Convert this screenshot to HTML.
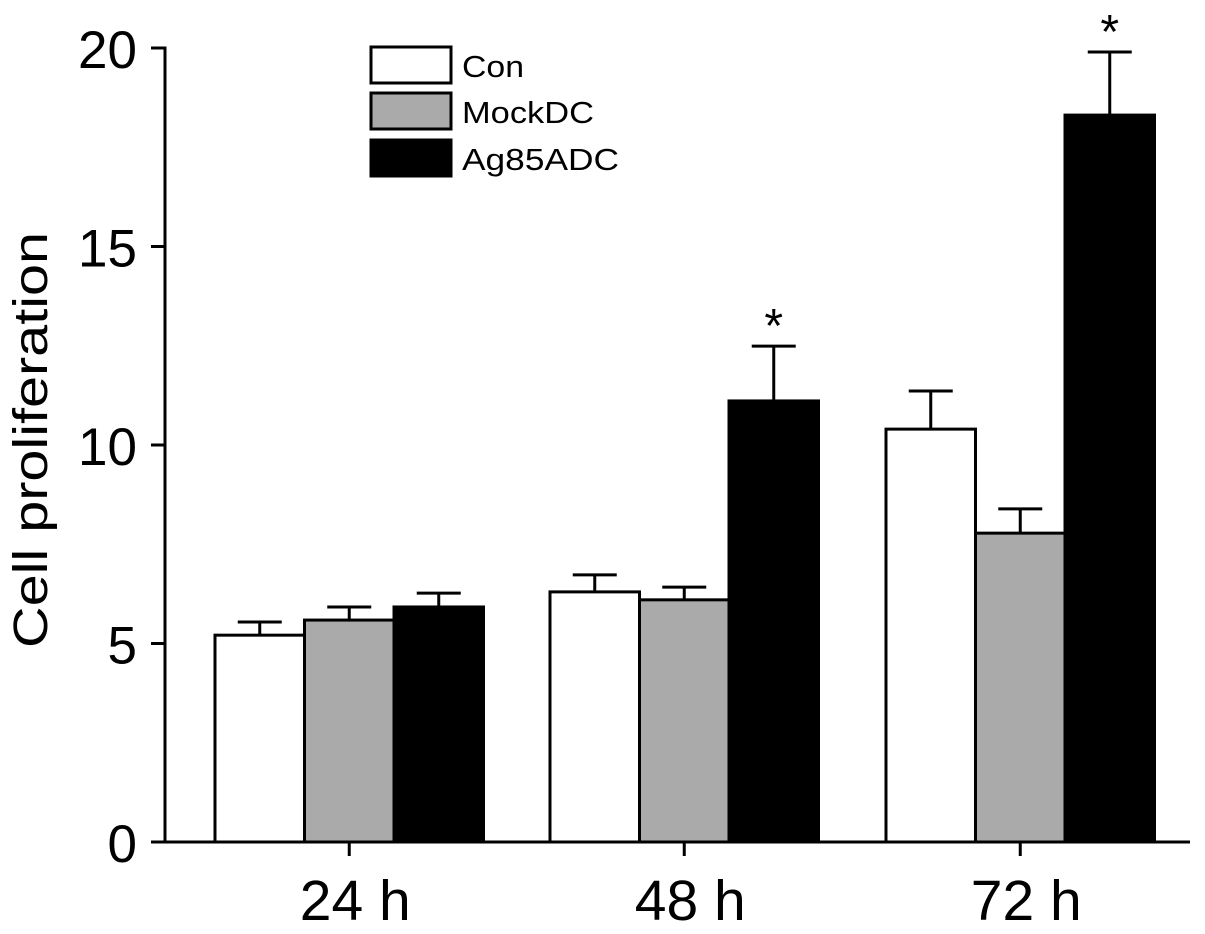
<!DOCTYPE html>
<html><head><meta charset="utf-8"><style>
body{margin:0;background:#fff}
svg{display:block;font-family:"Liberation Sans",Arial,sans-serif}
</style></head><body>
<svg id="chart" width="1205" height="934" viewBox="0 0 1205 934"></svg>
<script>
const categories=["24 h","48 h","72 h"];
const seriesNames=["Con","MockDC","Ag85ADC"];
const conVals=[5.21,6.30,10.40];
const conErr=[0.33,0.43,0.96];
const mockVals=[5.59,6.10,7.78];
const mockErr=[0.33,0.32,0.61];
const agVals=[5.92,11.11,18.31];
const agErr=[0.35,1.38,1.59];
const sig=[false,true,true];
const yTicks=[0,5,10,15,20];

const NS="http://www.w3.org/2000/svg";
const svg=document.getElementById('chart');
function mk(t,a,p){const e=document.createElementNS(NS,t);for(const k in a)e.setAttribute(k,a[k]);(p||svg).appendChild(e);return e;}
const y0=842,yTop=48,ax=165;
const y=v=>y0-(y0-yTop)*v/20;
const groupLeft=[215,550,886],bw=89.5;
const xBar=(g,s)=>groupLeft[g]+s*bw;
const fills=["#ffffff","#aaaaaa","#000000"];
const vals=[conVals,mockVals,agVals],errs=[conErr,mockErr,agErr];

for(let g=0;g<categories.length;g++){
  for(let s=0;s<3;s++){
    const x=xBar(g,s),v=vals[s][g],e=errs[s][g],cx=x+bw/2;
    let l=mk('line',{x1:cx,x2:cx,y1:y(v),y2:y(v+e),stroke:'#000','stroke-width':3});
    
    
    let c=mk('line',{x1:cx-22,x2:cx+22,y1:y(v+e),y2:y(v+e),stroke:'#000','stroke-width':3});
    
    
    let r=mk('rect',{x:x,y:y(v),width:bw,height:y0-y(v),fill:fills[s],stroke:'#000','stroke-width':3});
    
    
  }
  if(sig[g]){
    const cx=xBar(g,2)+bw/2;
    let t=mk('text',{x:cx,y:y(agVals[g]+agErr[g])-4,'text-anchor':'middle','font-size':48});
    t.textContent='*';
    
    
  }
  const gc=groupLeft[g]+bw*1.5;
  mk('line',{x1:gc,x2:gc,y1:y0,y2:y0+14,stroke:'#000','stroke-width':3});
  let tl=mk('text',{x:gc+6,y:920,'text-anchor':'middle','font-size':57});
  tl.textContent=categories[g];
  
  
}
// axes
let ya=mk('line',{x1:ax,x2:ax,y1:yTop-1.5,y2:y0+1.5,stroke:'#000','stroke-width':3});

let xa=mk('line',{x1:ax,x2:1190,y1:y0,y2:y0,stroke:'#000','stroke-width':3});

yTicks.forEach(v=>{
  mk('line',{x1:ax-14,x2:ax,y1:y(v),y2:y(v),stroke:'#000','stroke-width':3});
  let t=mk('text',{x:137,y:y(v)+20,'text-anchor':'end','font-size':53});
  t.textContent=v;
  
  
});
let yl=mk('text',{x:0,y:0,'text-anchor':'middle','font-size':48,textLength:416,lengthAdjust:'spacingAndGlyphs',transform:'translate(47,440) rotate(-90)'});
yl.textContent='Cell proliferation';


// legend
const legY=[47,93,140];
const legW=[62,132,157];
for(let s=0;s<3;s++){
  let r=mk('rect',{x:371,y:legY[s],width:80,height:36,fill:fills[s],stroke:'#000','stroke-width':3});
  
  
  let t=mk('text',{x:462,y:legY[s]+30,'font-size':31,textLength:legW[s],lengthAdjust:'spacingAndGlyphs'});
  t.textContent=seriesNames[s];
  
  
}
</script>
</body></html>
